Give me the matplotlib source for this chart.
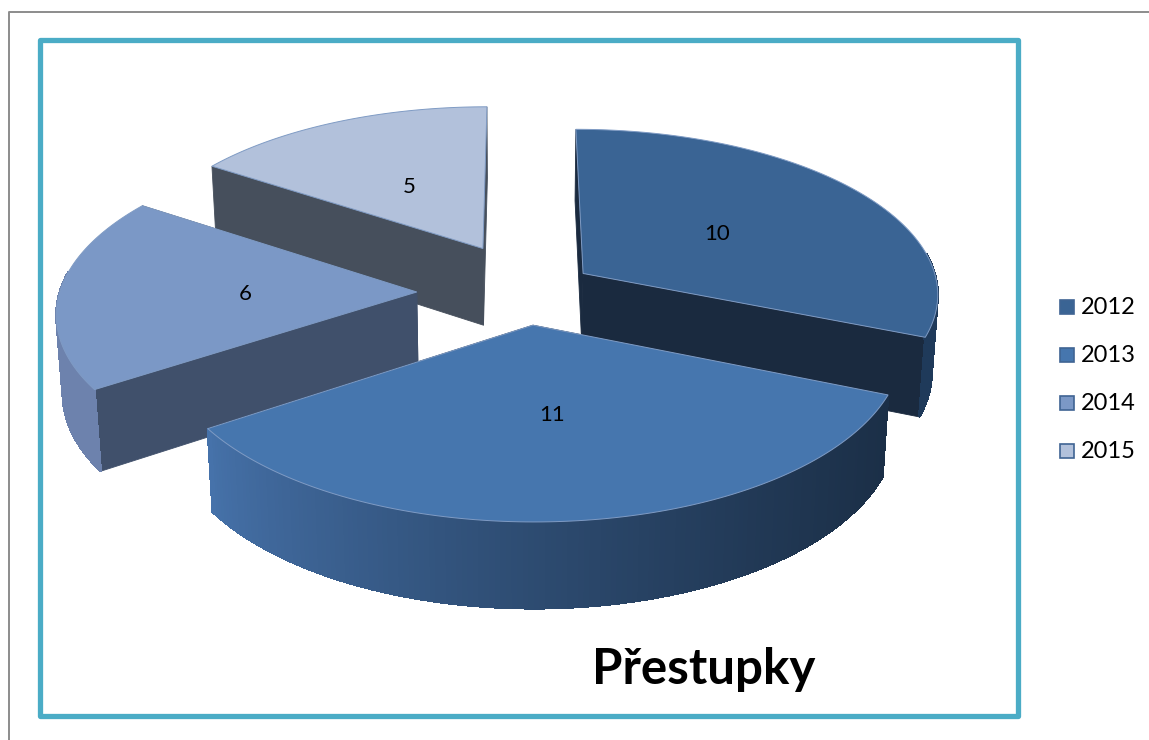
import numpy as np
import matplotlib
matplotlib.use('Agg')
import matplotlib.pyplot as plt
from matplotlib.patches import Polygon, Rectangle
from matplotlib.colors import to_rgb

years = ['2012', '2013', '2014', '2015']
values = [10, 11, 6, 5]
title = 'Přestupky'

top_colors = ['#3A6494', '#4676AE', '#7B98C6', '#B2C1DB']
wall_colors = ['#1A2A3F', '#1C3048', '#40506B', '#464F5C']
outer_colors = ['#1F3A5A', None, '#6D82AD', '#8A9BBB']
legend_colors = ['#3A6494', '#4676AE', '#7B98C6', '#B2C1DB']

# pie geometry, in pixels and pie radii
cx, cy = 515, 287
R = 357
tilt = np.radians(27.5)
cam_d = 8.0
height = 0.25
explode = 0.25
# the slices do not move apart quite evenly, small pixel shift for each
nudge_x = [-5, 9, -9, 9]
nudge_y = [9, -4, 5, -3]


def project(x, y, z):
    depth = y * np.cos(tilt) - z * np.sin(tilt)
    s = cam_d / (cam_d + depth)
    return cx + R * x * s, cy - R * (y * np.sin(tilt) + z * np.cos(tilt)) * s


def draw_slice(ax, i, a0, a1):
    mid = (a0 + a1) / 2
    ox, oy = explode * np.sin(mid), explode * np.cos(mid)
    h = -height
    zo = 10 + zorders[i]

    def point(a, r, z=0.0):
        px, py = project(ox + r * np.sin(a), oy + r * np.cos(a), z)
        return px + nudge_x[i], py + nudge_y[i]

    apex = point(0, 0)
    apex_b = point(0, 0, h)

    # radial walls
    for a in (a0, a1):
        q = [apex, point(a, 1.0), point(a, 1.0, h), apex_b]
        ax.add_patch(Polygon(q, fc=wall_colors[i], ec=wall_colors[i], lw=0.6, zorder=zo))

    # outer wall, split up so the colour can run along it
    t = np.linspace(a0, a1, 160)
    for u, v in zip(t[:-1], t[1:]):
        if np.cos((u + v) / 2) > 0.12:
            continue
        q = [point(u, 1.0), point(v, 1.0), point(v, 1.0, h), point(u, 1.0, h)]
        if outer_colors[i] is None:
            f = np.clip((q[0][0] - 210) / 680, 0, 1) ** 0.75
            c = (1 - f) * np.array(to_rgb('#4672AA')) + f * np.array(to_rgb('#1B2F47'))
        else:
            c = outer_colors[i]
        ax.add_patch(Polygon(q, fc=c, ec=c, lw=1.0, antialiased=False, zorder=zo))

    top = [apex] + [point(a, 1.0) for a in np.linspace(a0, a1, 120)]
    ax.add_patch(Polygon(top, fc=top_colors[i], ec='#7F9BC4', lw=0.7, zorder=zo + 0.5))
    lx, ly = point(mid, 0.48)
    ax.text(lx, ly + 2, str(values[i]), ha='center', va='center', fontsize=16, family='Lato', color='black', zorder=30)


fig = plt.figure(figsize=(1149 / 100, 740 / 100), dpi=100)
ax = fig.add_axes([0, 0, 1, 1])
ax.set_xlim(0, 1149)
ax.set_ylim(740, 0)
ax.axis('off')

# page edge and chart frame
ax.plot([1149, 9, 9], [12, 12, 740], color='#8C8C8C', lw=1.4)
ax.add_patch(Rectangle((40, 40), 978, 676, fc='white', ec='#4BACC6', lw=3.8, joinstyle='round', zorder=1))

zorders = [2, 3, 1, 0]
total = sum(values)
edges = np.cumsum([0] + values) / total * 2 * np.pi
for i in range(len(values)):
    draw_slice(ax, i, edges[i], edges[i + 1])

for i, year in enumerate(years):
    y = 307 + i * 48
    ax.add_patch(Rectangle((1060, y - 7), 14, 14, fc=legend_colors[i], ec='#3F6493', lw=1.2, zorder=5))
    ax.text(1081, y, year, ha='left', va='center', fontsize=17, family='Lato', color='black')

ax.text(704, 669, title, ha='center', va='center', fontsize=35.5, family='Lato', fontweight='bold', color='black', zorder=30)

fig.savefig('out.png', dpi=100)
